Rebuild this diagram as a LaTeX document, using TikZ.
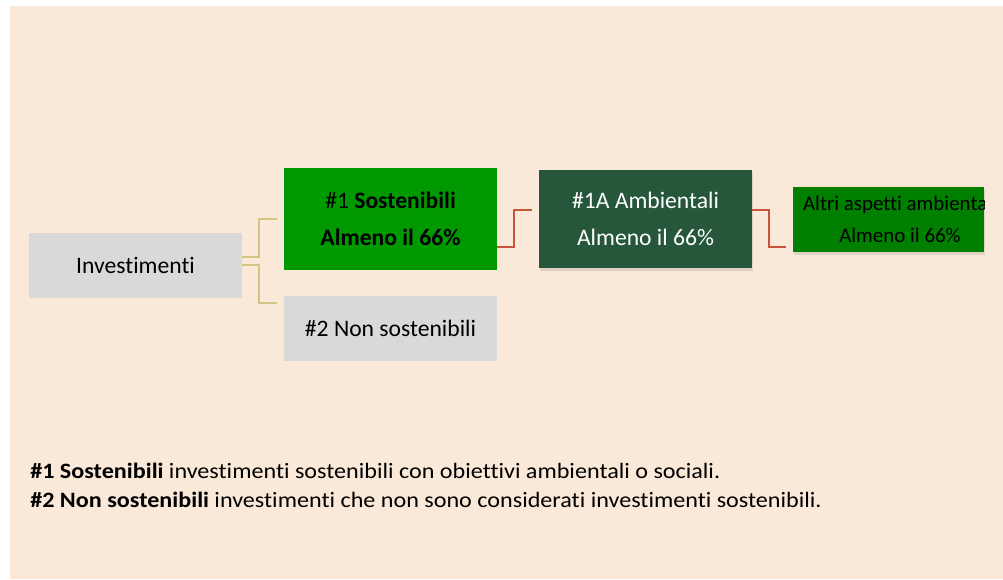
\documentclass[tikz,border=0pt]{standalone}
\usepackage{fontspec}
\setmainfont{Carlito}[Ligatures=NoCommon]
\usepackage{graphicx}
\usepackage{xcolor}
\usepackage{tikz}
\usetikzlibrary{positioning,calc,shadows}

\definecolor{bgbeige}{HTML}{FAE8D8}
\definecolor{boxgray}{HTML}{D9D9D9}
\definecolor{sostgreen}{HTML}{009900}
\definecolor{ambgreen}{HTML}{26573B}
\definecolor{altrigreen}{HTML}{007F00}
\definecolor{tanline}{HTML}{D3C484}
\definecolor{redline}{HTML}{C8553A}

% legend text is set a bit wider than normal
\newcommand{\widetext}[1]{\scalebox{1.1}[1]{#1}}

\begin{document}
\begin{tikzpicture}[x=0.025cm, y=-0.025cm,
    box/.style={inner sep=0pt, align=center, font=\fontsize{16.8}{26}\selectfont},
    graybox/.style={box, fill=boxgray, minimum width=213*0.025cm, minimum height=65*0.025cm},
    shadowed/.style={drop shadow={opacity=0.22, shadow xshift=1pt, shadow yshift=-2pt}},
    tanconn/.style={tanline, line width=1.4pt},
    redconn/.style={redline, line width=1.4pt},
    note/.style={inner sep=0pt, anchor=base west, font=\fontsize{15.6}{18}\selectfont}]
  \useasboundingbox (0,0) rectangle (1003,579);
  \fill[white] (0,0) rectangle (1003,579);
  \fill[bgbeige] (10,6) rectangle (1003,579);

  % boxes
  \node[graybox] (inv) at (135.5,265.5) {Investimenti};
  \node[box, fill=sostgreen, minimum width=213*0.025cm, minimum height=102*0.025cm] (sost) at (390.5,219)
    {\#1 \textbf{Sostenibili}\\\textbf{Almeno il 66\%}};
  \node[graybox] (nonsost) at (390.5,328.5) {\#2 Non sostenibili};
  \node[box, shadowed, fill=ambgreen, text=white, minimum width=213*0.025cm, minimum height=98*0.025cm] (amb) at (645.5,219)
    {\#1A Ambientali\\Almeno il 66\%};
  \node[box, shadowed, fill=altrigreen, minimum width=191*0.025cm, minimum height=65*0.025cm] (altri) at (888.5,219.5) {};
  \begin{scope}
    \clip (altri.south west) rectangle (altri.north east);
    \node[box, font=\fontsize{14.9}{23}\selectfont] (altritxt) at ($(altri.center)+(11.5,0)$)
      {Altri aspetti ambientali\\Almeno il 66\%};
  \end{scope}

  % connectors
  \draw[tanconn] ($(inv.east)+(0,-8.5)$) -- ++(17,0) |- ($(sost.west)+(-7,0)$);
  \draw[tanconn] ($(inv.east)+(0,-0.5)$) -- ++(17,0) |- ($(nonsost.north west)+(-7,7)$);
  \draw[redconn] ($(sost.east)+(0,28)$) -- ++(17,0) |- ($(amb.west)+(-7,-9)$);
  \draw[redconn] ($(amb.east)+(0,-9)$) -- ++(17,0) |- ($(altri.west)+(-7,27.5)$);

  % legend
  \node[note] (note1) at (30,478) {\widetext{\textbf{\#1 Sostenibili} investimenti sostenibili con obiettivi ambientali o sociali.}};
  \node[note] (note2) at (30,507) {\widetext{\textbf{\#2 Non sostenibili} investimenti che non sono considerati investimenti sostenibili.}};
\end{tikzpicture}
\end{document}
